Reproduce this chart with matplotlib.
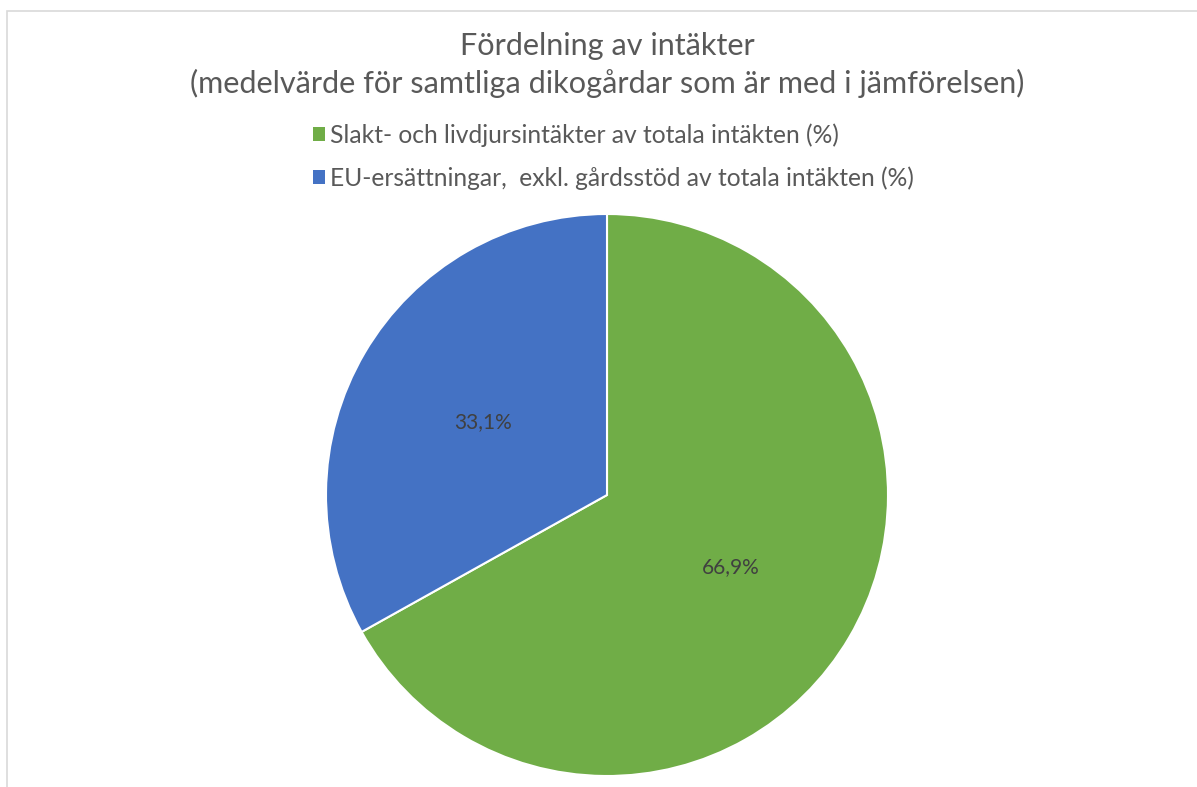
import matplotlib.pyplot as plt
from matplotlib.patches import Rectangle, Patch

# data
labels = ['Slakt- och livdjursintäkter av totala intäkten (%)',
          'EU-ersättningar,  exkl. gårdsstöd av totala intäkten (%)']
values = [66.9, 33.1]
colors = ['#70AD47', '#4472C4']
title = 'Fördelning av intäkter\n(medelvärde för samtliga dikogårdar som är med i jämförelsen)'

plt.rcParams['font.family'] = ['Lato', 'DejaVu Sans']

W, H = 1197, 787
fig = plt.figure(figsize=(W / 100, H / 100), dpi=100)

# chart frame (left and top edge visible)
fig.patches.append(Rectangle((7 / W, -0.1), 1.2, (H - 10.5) / H + 0.1,
                             transform=fig.transFigure, fill=False,
                             edgecolor='#D9D9D9', lw=1.2))

# pie
cx, cy, r = 607, 495, 281
ax = fig.add_axes([(cx - r) / W, (H - cy - r) / H, 2 * r / W, 2 * r / H])


def fmt(p):
    return ('%.1f%%' % p).replace('.', ',')


wedges, texts, autotexts = ax.pie(values, colors=colors, startangle=90,
                                  counterclock=False, autopct=fmt,
                                  pctdistance=0.51,
                                  wedgeprops=dict(edgecolor='white', linewidth=1.5))
for t in autotexts:
    t.set_color('#404040')
    t.set_fontsize(15)
ax.set_xlim(-1, 1)
ax.set_ylim(-1, 1)
ax.set_aspect('equal')
ax.axis('off')
for w in wedges:
    w.set_clip_on(False)

fig.text(607 / W, 1 - 65 / H, title, ha='center', va='center',
         fontsize=22.1, color='#595959', linespacing=1.4)

handles = [Patch(facecolor=c, edgecolor='none') for c in colors]
leg = fig.legend(handles, labels, loc='upper left',
                 bbox_to_anchor=(313 / W, 1 - 123 / H), frameon=False,
                 borderpad=0, borderaxespad=0,
                 fontsize=17.7, labelcolor='#595959', handlelength=0.49,
                 handleheight=0.49, handletextpad=0.2, labelspacing=0.8)

fig.savefig('out.png', dpi=100, facecolor='white')
